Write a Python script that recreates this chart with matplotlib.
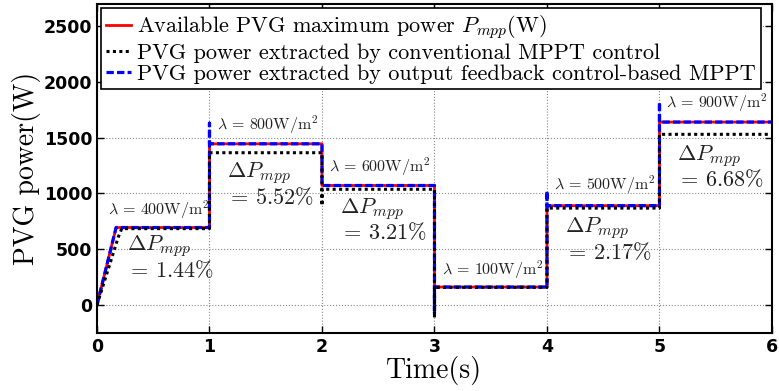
import matplotlib
matplotlib.use("Agg")
import matplotlib.pyplot as plt

plt.rcParams["mathtext.fontset"] = "cm"
plt.rcParams["axes.unicode_minus"] = False

# Available PVG maximum power (step changes of irradiance)
t_mpp = [0, 0.17, 1, 1, 2, 2, 3, 3, 4, 4, 5, 5, 6]
p_mpp = [0, 694, 694, 1445, 1445, 1071, 1071, 160, 160, 890, 890, 1640, 1640]

# Conventional MPPT control
t_conv = [0, 0.19, 0.22, 1, 1, 2, 2, 2, 3, 3, 3, 4, 4, 5, 5, 6]
p_conv = [0, 610, 684, 684, 1365, 1365, 890, 1037, 1037, -117, 157, 157, 868, 868, 1530, 1530]

# Output feedback control-based MPPT
t_ofb = [0, 0.17, 1, 1, 1, 2, 2, 3, 3, 3, 4, 4, 4, 5, 5, 5, 6]
p_ofb = [0, 694, 694, 1630, 1445, 1445, 1071, 1071, -75, 160, 160, 1020, 890, 890, 1820, 1640, 1640]

# irradiance labels
lam_labels = ["400", "800", "600", "100", "500", "900"]
lam_t = [0.10, 1.07, 2.06, 3.07, 4.06, 5.06]
lam_p = [850, 1616, 1239, 314, 1077, 1813]

# power loss labels
dp_labels = ["1.44", "5.52", "3.21", "2.17", "6.68"]
dp_t = [0.27, 1.16, 2.16, 4.16, 5.16]
dp_p = [430, 1085, 765, 590, 1240]

fig = plt.figure(figsize=(7.79, 3.91), dpi=100)
ax = fig.add_axes([0.1245, 0.149, 0.8665, 0.841])

ax.plot(t_mpp, p_mpp, color="red", lw=2.0, label=r"Available PVG maximum power $P_{mpp}$(W)")
ax.plot(t_ofb, p_ofb, color="blue", lw=2.3, linestyle=(0, (2.3, 1.0)),
        label="PVG power extracted by output feedback control-based MPPT")
ax.plot(t_conv, p_conv, color="black", lw=2.2, linestyle=(0, (1.0, 1.1)),
        label="PVG power extracted by conventional MPPT control")

for lab, x, y in zip(lam_labels, lam_t, lam_p):
    ax.text(x, y, r"$\lambda\,=\,%s\mathrm{W/m}^2$" % lab, fontsize=11.5,
            color="#222222", ha="left", va="center")

for lab, x, y in zip(dp_labels, dp_t, dp_p):
    ax.text(x, y, "$\\Delta P_{mpp}$\n$=\\,%s\\%%$" % lab, fontsize=16,
            color="#222222", ha="left", va="center", linespacing=1.0)

ax.set_xlim(0, 6)
ax.set_ylim(-250, 2700)
ax.set_xticks(range(0, 7))
ax.set_yticks([0, 500, 1000, 1500, 2000, 2500])
ax.grid(True, linestyle=":", color="#888888", lw=0.8)
ax.tick_params(direction="in", top=True, right=True, length=5, width=1)
for lbl in ax.get_xticklabels() + ax.get_yticklabels():
    lbl.set_fontfamily("DejaVu Sans")
    lbl.set_fontweight("bold")
    lbl.set_fontsize(12.5)
for s in ax.spines.values():
    s.set_linewidth(1.5)

ax.set_xlabel("Time(s)", fontsize=20, family="cmr10", labelpad=0)
ax.set_ylabel("PVG power(W)", fontsize=20, family="cmr10", labelpad=2)

handles, labels = ax.get_legend_handles_labels()
order = [0, 2, 1]
leg = ax.legend([handles[i] for i in order], [labels[i] for i in order],
                loc="upper left", prop={"family": "cmr10", "size": 16},
                fancybox=False, framealpha=1, edgecolor="black",
                handlelength=1.1, handletextpad=0.3, borderaxespad=0.2,
                labelspacing=0.08, borderpad=0.22)
leg.get_frame().set_linewidth(1.2)

fig.savefig("out.png", dpi=100)
